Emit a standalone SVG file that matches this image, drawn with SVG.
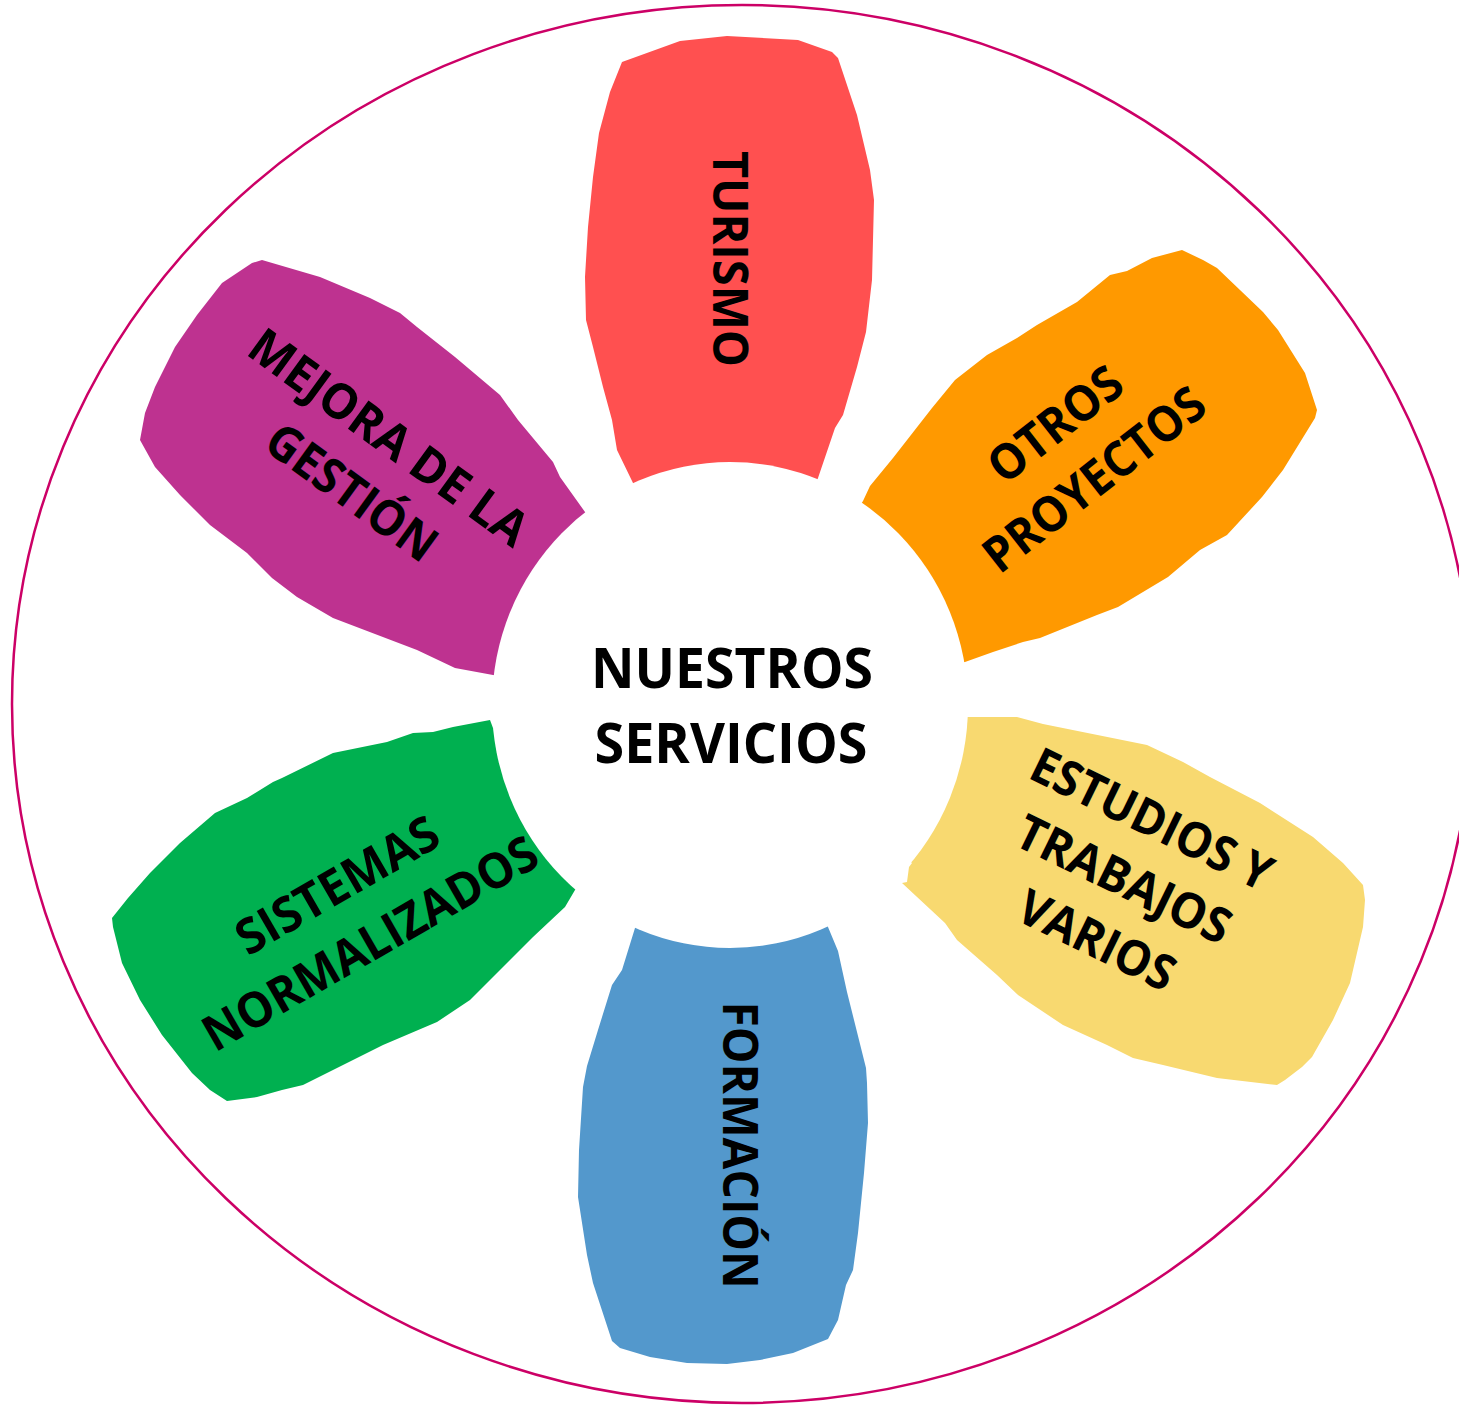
<svg xmlns="http://www.w3.org/2000/svg" width="1459" height="1406" viewBox="0 0 1459 1406">
<style>
.lbl{font-family:"Open Sans","Liberation Sans",sans-serif;font-weight:bold;font-size:49px;fill:#000;text-anchor:middle}
.ctr{font-family:"Open Sans","Liberation Sans",sans-serif;font-weight:bold;font-size:56px;fill:#000;text-anchor:middle}
</style>
<rect width="1459" height="1406" fill="#fff"/>
<ellipse id="outer-ring" cx="742" cy="704" rx="730" ry="699" fill="none" stroke="#CC0066" stroke-width="2.5"/>
<g id="connectors"></g>
<g id="turismo">
<path fill="#FF5050" d="M622,62 L680,41 727,36 798,40 832,52 838,58 857,115 870,170 874,200 872,280 866,332 857,367 843,415 835,428 818,478 730,705 633,483 617,450 612,420 603,387 593,347 586,320 585,277 588,227 593,177 599,133 610,92 Z"/>
<text class="lbl" transform="translate(730,259) rotate(90)" y="17.5" textLength="216" lengthAdjust="spacingAndGlyphs">TURISMO</text>
</g>
<g id="mejora">
<path fill="#BE3290" d="M252,263 L262,260 320,277 370,298 400,313 417,327 455,357 500,395 518,420 553,462 560,477 585,512 730,705 493,675 455,668 417,650 333,618 297,597 272,578 247,553 210,525 180,495 155,467 140,440 145,413 155,387 175,347 197,315 222,283 Z"/>
<text class="lbl" transform="translate(389,437) rotate(36)" y="17.5" textLength="332" lengthAdjust="spacingAndGlyphs">MEJORA DE LA</text>
<text class="lbl" transform="translate(352,492) rotate(36)" y="17.5" textLength="198" lengthAdjust="spacingAndGlyphs">GESTIÓN</text>
</g>
<g id="otros">
<path fill="#FF9900" d="M1182,250 L1203,260 1217,268 1263,312 1278,330 1305,373 1317,410 1315,418 1283,470 1262,497 1227,535 1200,550 1168,577 1118,607 1097,615 1040,638 1023,642 993,652 965,662 730,705 863,501 870,486 893,458 932,408 955,380 987,355 1017,338 1037,325 1077,302 1110,275 1127,271 1152,258 Z"/>
<text class="lbl" transform="translate(1055,424) rotate(-38)" y="17.5" textLength="156" lengthAdjust="spacingAndGlyphs">OTROS</text>
<text class="lbl" transform="translate(1094,479) rotate(-38)" y="17.5" textLength="267" lengthAdjust="spacingAndGlyphs">PROYECTOS</text>
</g>
<g id="estudios">
<path fill="#F8D970" d="M968,717 L1017,717 1043,724 1147,745 1183,762 1210,777 1260,803 1313,837 1343,863 1363,885 1365,900 1363,927 1350,983 1333,1020 1312,1057 1302,1067 1285,1080 1277,1085 1217,1078 1163,1065 1133,1058 1107,1045 1063,1025 1018,995 997,975 957,940 945,923 902,883 907,882 909,867 912,863 730,705 Z"/>
<text class="lbl" transform="translate(1152,819) rotate(26)" y="17.5" textLength="262" lengthAdjust="spacingAndGlyphs">ESTUDIOS Y</text>
<text class="lbl" transform="translate(1124,879) rotate(26)" y="17.5" textLength="232" lengthAdjust="spacingAndGlyphs">TRABAJOS</text>
<text class="lbl" transform="translate(1097,940) rotate(26)" y="17.5" textLength="168" lengthAdjust="spacingAndGlyphs">VARIOS</text>
</g>
<g id="formacion">
<path fill="#5398CC" d="M635,928 L730,705 828,927 838,951 847,992 866,1068 867,1083 868,1123 864,1173 858,1233 853,1270 846,1285 838,1320 828,1339 793,1353 760,1360 727,1364 687,1363 650,1357 620,1348 612,1341 593,1283 587,1255 578,1197 579,1150 583,1087 587,1066 598,1030 612,985 622,970 Z"/>
<text class="lbl" transform="translate(740,1145) rotate(90)" y="17.5" textLength="287" lengthAdjust="spacingAndGlyphs">FORMACIÓN</text>
</g>
<g id="sistemas">
<path fill="#00B050" d="M490,720 L493,728 730,705 575,890 565,907 533,937 470,1000 437,1022 383,1045 303,1085 282,1090 257,1097 227,1101 210,1090 192,1073 162,1035 140,1000 122,963 113,927 112,918 128,898 150,873 180,843 215,813 247,798 273,782 282,778 333,753 387,742 413,733 433,732 453,727 Z"/>
<text class="lbl" transform="translate(337,885) rotate(-30)" y="17.5" textLength="226" lengthAdjust="spacingAndGlyphs">SISTEMAS</text>
<text class="lbl" transform="translate(370,943) rotate(-30)" y="17.5" textLength="378" lengthAdjust="spacingAndGlyphs">NORMALIZADOS</text>
</g>
<g id="center">
<ellipse cx="730" cy="705" rx="238" ry="243" fill="#fff"/>
<text class="ctr" x="732" y="688" textLength="282" lengthAdjust="spacingAndGlyphs">NUESTROS</text>
<text class="ctr" x="731" y="763" textLength="273" lengthAdjust="spacingAndGlyphs">SERVICIOS</text>
</g>
</svg>
